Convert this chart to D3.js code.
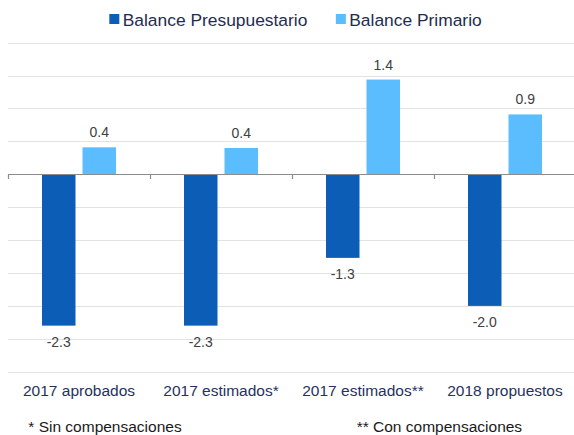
<!DOCTYPE html>
<html>
<head>
<meta charset="utf-8">
<script src="https://cdn.jsdelivr.net/npm/d3@7"></script>
<style>
  html, body { margin: 0; padding: 0; background: #fff; }
  svg { display: block; font-family: "Liberation Sans", Arial, sans-serif; }
</style>
</head>
<body>
<svg id="chart" width="574" height="435"></svg>
<script>
const categories = ["2017 aprobados", "2017 estimados*", "2017 estimados**", "2018 propuestos"];
const seriesNames = ["Balance Presupuestario", "Balance Primario"];
const presupuestario = [-2.3, -2.3, -1.27, -2.0];
const primario = [0.41, 0.4, 1.44, 0.91];
const seriesColors = ["#0B5DB5", "#5BBDFD"];
const gridTicks = [-3, -2.5, -2, -1.5, -1, -0.5, 0, 0.5, 1, 1.5, 2];
const footnotes = ["* Sin compensaciones", "** Con compensaciones"];

const seriesValues = [presupuestario, primario];
const data = categories.map((c, i) => ({
  category: c,
  values: seriesNames.map((s, j) => ({ series: s, value: seriesValues[j][i], color: seriesColors[j] }))
}));

const svg = d3.select("#chart");

const x = d3.scaleBand().domain(categories).range([8, 576]);
const x1 = d3.scaleBand().domain(seriesNames).range([34, 108]).paddingInner(0.173).paddingOuter(0);
const y = d3.scaleLinear().domain([-3, 2]).range([371.7, 42.7]);

// gridlines
svg.append("g")
  .selectAll("line")
  .data(gridTicks.filter(t => t !== 0))
  .join("line")
  .attr("x1", 8).attr("x2", 574)
  .attr("y1", d => Math.round(y(d)) + 0.5).attr("y2", d => Math.round(y(d)) + 0.5)
  .attr("stroke", "#e2e2e2").attr("stroke-width", 1.2);

// bars
const groups = svg.append("g").selectAll("g")
  .data(data).join("g")
  .attr("transform", d => `translate(${x(d.category)},0)`);

groups.selectAll("rect")
  .data(d => d.values).join("rect")
  .attr("x", d => x1(d.series))
  .attr("width", x1.bandwidth())
  .attr("y", d => y(Math.max(0, d.value)))
  .attr("height", d => Math.abs(y(d.value) - y(0)))
  .attr("fill", d => d.color);

// data labels
const fmt = v => d3.format(".1f")(v).replace("\u2212", "-");
groups.selectAll("text")
  .data(d => d.values).join("text")
  .attr("x", d => x1(d.series) + x1.bandwidth() / 2)
  .attr("y", d => d.value >= 0 ? y(d.value) - 10 : y(d.value) + 21.5)
  .attr("text-anchor", "middle")
  .attr("font-size", 14)
  .attr("fill", "#404040")
  .text(d => fmt(d.value));

// zero axis
const zeroY = Math.round(y(0)) + 0.5;
svg.append("line")
  .attr("x1", 8).attr("x2", 574)
  .attr("y1", zeroY).attr("y2", zeroY)
  .attr("stroke", "#8c8c8c").attr("stroke-width", 1.2);

// category boundary ticks
svg.append("g").selectAll("line")
  .data(categories)
  .join("line")
  .attr("x1", d => Math.round(x(d)) + 0.5).attr("x2", d => Math.round(x(d)) + 0.5)
  .attr("y1", zeroY).attr("y2", zeroY + 4.5)
  .attr("stroke", "#8c8c8c").attr("stroke-width", 1.2);

// category labels
svg.append("g").selectAll("text")
  .data(categories).join("text")
  .attr("x", d => x(d) + x.bandwidth() / 2)
  .attr("y", 396)
  .attr("text-anchor", "middle")
  .attr("font-size", 15.5)
  .attr("fill", "#1F3260")
  .text(d => d);

// footnotes
svg.append("text")
  .attr("x", 28.3).attr("y", 432)
  .attr("font-size", 15.5).attr("fill", "#1a1a1a")
  .text(footnotes[0]);
svg.append("text")
  .attr("x", 356.7).attr("y", 432)
  .attr("font-size", 15.5).attr("fill", "#1a1a1a")
  .text(footnotes[1]);

// legend
const legend = svg.append("g");
const items = legend.selectAll("g").data(seriesNames).join("g");
items.append("rect")
  .attr("width", 10).attr("height", 10)
  .attr("y", 14)
  .attr("fill", (d, i) => seriesColors[i]);
items.append("text")
  .attr("x", 13.4).attr("y", 25.7)
  .attr("font-size", 17.4)
  .attr("fill", "#1F2D4E")
  .text(d => d);
const widths = [];
items.each(function () {
  widths.push(13.4 + d3.select(this).select("text").node().getComputedTextLength());
});
const gap = 28.5;
const total = widths.reduce((a, b) => a + b, 0) + gap * (widths.length - 1);
let start = 295.5 - total / 2;
items.attr("transform", (d, i) => {
  const t = `translate(${start},0)`;
  start += widths[i] + gap;
  return t;
});
</script>
</body>
</html>
